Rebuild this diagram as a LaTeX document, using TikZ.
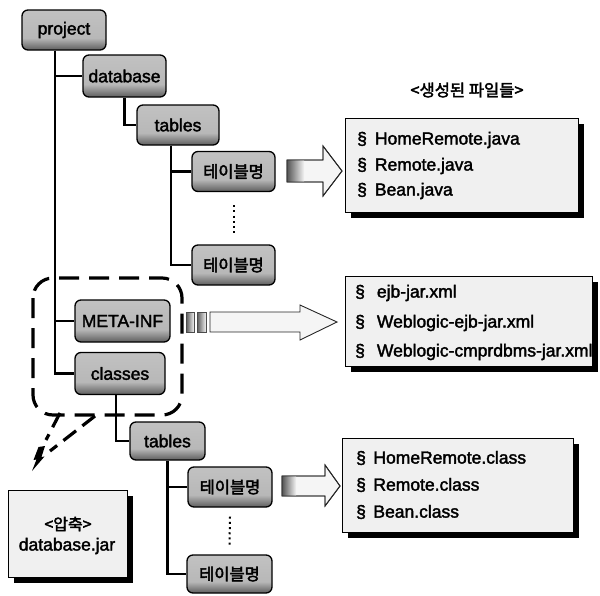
\documentclass[tikz,border=0pt]{standalone}
\usepackage{fontspec}
\setmainfont{Liberation Sans}[FakeBold=2]
\newfontfamily\krfont{Noto Sans CJK KR}[FakeBold=2.5]
\usetikzlibrary{calc,shadows}

% dark rim at the bottom, grey face, darker top edge
\pgfdeclareverticalshading{bevel}{100bp}{color(0bp)=(black!95); color(20bp)=(black!75); color(40bp)=(black!28); color(76bp)=(black!24); color(91bp)=(black!50); color(100bp)=(black!85)}

\begin{document}
\begin{tikzpicture}[x=1pt,y=-1pt,
  treenode/.style={draw=black, line width=1.3pt, rounded corners=6pt, shading=bevel,
    inner sep=0pt, minimum height=40pt, font=\fontsize{17.5}{18}\selectfont, text=black},
  krnode/.style={treenode, font=\krfont\fontsize{16.5}{18}\selectfont},
  branch/.style={line width=2.4pt, black},
  dotline/.style={line width=2pt, dash pattern=on 2pt off 3.2pt},
  filebox/.style={draw=black, line width=1pt, fill=black!6, inner sep=0pt, anchor=north west,
    drop shadow={shadow xshift=5pt, shadow yshift=-5pt, opacity=1, fill=black}},
  item/.style={anchor=west, inner sep=0pt, font=\fontsize{17.5}{18}\selectfont},
  callout/.style={line width=3.2pt, dash pattern=on 20pt off 10pt, rounded corners=20pt},
  taildash/.style={line width=3.2pt, dash pattern=on 16pt off 8pt},
  blockarrow/.style={draw=black!85, line width=0.9pt, fill=black!4},
  arrowtail/.style={left color=black!65, right color=black!5},
]
\useasboundingbox (0,0) rectangle (600,595);

% ---------- tree nodes ----------
\node[treenode, minimum width=84pt] (project) at (64,30) {project};
\node[treenode, minimum width=83pt, minimum height=42pt] (database) at (124.5,76) {database};
\node[treenode, minimum width=82pt] (tablesA) at (178,125) {tables};
\node[krnode, minimum width=83pt] (tnA1) at (233.5,171.5) {테이블명};
\node[krnode, minimum width=83pt] (tnA2) at (233.5,265) {테이블명};
\node[treenode, minimum width=95pt, minimum height=42pt] (metainf) at (122.5,321) {META-INF};
\node[treenode, minimum width=90pt, minimum height=42pt] (classes) at (120,373.5) {classes};
\node[treenode, minimum width=75pt, minimum height=38pt] (tablesB) at (167.5,441) {tables};
\node[krnode, minimum width=84pt] (tnB1) at (230,487) {테이블명};
\node[krnode, minimum width=85pt, minimum height=38pt] (tnB2) at (229.5,574) {테이블명};

% ---------- tree branches ----------
\coordinate (trunk) at (55,0);
\coordinate (trunkA) at (171,0);
\coordinate (trunkB) at (116,0);
\draw[branch] (project.south -| trunk) |- (database.west);
\draw[branch] (project.south -| trunk) |- (metainf.west);
\draw[branch] (project.south -| trunk) |- (classes.west);
\draw[branch] (database.south) |- (tablesA.west);
\draw[branch] (tablesA.south -| trunkA) |- (tnA1.west);
\draw[branch] (tablesA.south -| trunkA) |- (tnA2.west);
\draw[branch] (classes.south -| trunkB) |- (tablesB.west);
\draw[branch] (tablesB.south) |- (tnB1.west);
\draw[branch] (tablesB.south) |- (tnB2.west);

% ellipsis between table nodes
\draw[dotline] ($(tnA1.south)+(0,13)$) -- ($(tnA2.north)+(0,-9)$);
\draw[dotline] ($(tnB1.south)+(0,9)$) -- ($(tnB2.north)+(0,-8)$);

% ---------- dashed callout around META-INF / classes ----------
\draw[callout] (33,278) rectangle (182,415);
\draw[taildash] (60,413) -- (46,440);
\draw[taildash] (95,416) -- (50,451);
\fill (45,446) -- (41.5,457) -- (44.5,456.5) -- (32,471) -- (36.5,459.5) -- (33.5,460) -- (38.5,447) -- cycle;

% ---------- block arrows ----------
\fill[blockarrow] (287,160) -- (323,160) -- (323,146) -- (342,171) -- (323,196) -- (323,182) -- (287,182) -- cycle;
\shade[arrowtail] (287.5,160.5) rectangle (304,181.5);
\draw[blockarrow, fill=none] (287,160) -- (323,160) -- (323,146) -- (342,171) -- (323,196) -- (323,182) -- (287,182) -- cycle;

\shade[arrowtail] (186,312) rectangle (194,332);
\draw[black!70, line width=0.6pt] (186,312) rectangle (194,332);
\shade[arrowtail] (197,312) rectangle (206,332);
\draw[black!70, line width=0.6pt] (197,312) rectangle (206,332);
\draw[blockarrow] (210,312) -- (300,312) -- (300,305) -- (337,322) -- (300,340) -- (300,332) -- (210,332) -- cycle;

\fill[blockarrow] (282,476) -- (325,476) -- (325,465) -- (340,486) -- (325,506) -- (325,496) -- (282,496) -- cycle;
\shade[arrowtail] (282.5,476.5) rectangle (296,495.5);
\draw[blockarrow, fill=none] (282,476) -- (325,476) -- (325,465) -- (340,486) -- (325,506) -- (325,496) -- (282,496) -- cycle;

% ---------- generated files ----------
\node[font=\krfont\fontsize{16.5}{18}\selectfont] (title) at (467,90) {<생성된 파일들>};

\node[filebox, minimum width=233pt, minimum height=94pt] (javabox) at (345,118) {};
\node[item] (j1) at (357,140) {§\hspace{8pt}HomeRemote.java};
\node[item] (j2) at (357,166) {§\hspace{8pt}Remote.java};
\node[item] (j3) at (357,191) {§\hspace{8pt}Bean.java};

\node[filebox, minimum width=247pt, minimum height=90pt] (xmlbox) at (345,276) {};
\node[item] (x1) at (355,293) {§\hspace{12pt}ejb-jar.xml};
\node[item] (x2) at (355,323) {§\hspace{12pt}Weblogic-ejb-jar.xml};
\node[item] (x3) at (355,352) {§\hspace{12pt}Weblogic-cmprdbms-jar.xml};

\node[filebox, minimum width=231pt, minimum height=94pt] (classbox) at (342,438) {};
\node[item] (c1) at (356,458) {§\hspace{7.5pt}HomeRemote.class};
\node[item] (c2) at (356,485) {§\hspace{7.5pt}Remote.class};
\node[item] (c3) at (356,512) {§\hspace{7.5pt}Bean.class};

% ---------- archive ----------
\node[filebox, minimum width=119pt, minimum height=87pt] (jarbox) at (8,490) {};
\node[font=\krfont\fontsize{16}{18}\selectfont, inner sep=0pt] (jar1) at (68,524) {<압축>};
\node[font=\fontsize{17.5}{18}\selectfont, inner sep=0pt] (jar2) at (67,546) {database.jar};
\end{tikzpicture}
\end{document}
